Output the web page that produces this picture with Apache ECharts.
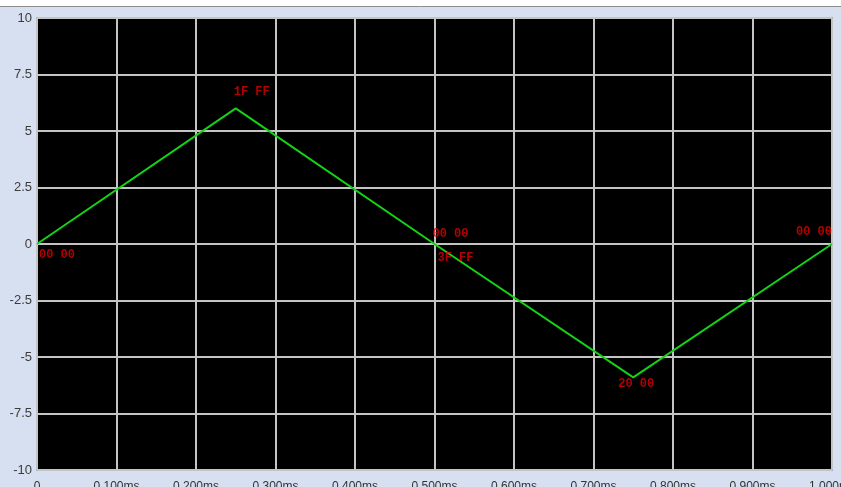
<!DOCTYPE html>
<html>
<head>
<meta charset="utf-8">
<script src="https://cdn.jsdelivr.net/npm/echarts@6/dist/echarts.min.js"></script>
<style>
html,body{margin:0;padding:0;background:#d6e0f1;}
#c{width:841px;height:487px;}
</style>
</head>
<body>
<div id="c"></div>
<script>
// time (ms) and voltage of the triangle wave vertices
var timeMs = [0, 0.25, 0.5, 0.75, 1.0];
var volts = [0, 6.0, 0, -5.9, 0];

// x tick labels
var xTickLabels = ['0', '0.100ms', '0.200ms', '0.300ms', '0.400ms', '0.500ms',
                   '0.600ms', '0.700ms', '0.800ms', '0.900ms', '1.000ms'];

// hex annotations attached to the vertices: [time, value, text]
var annotTime = [0, 0.25, 0.5, 0.5, 0.75, 1.0];
var annotValue = [0, 6.0, 0, 0, -5.9, 0];
var annotText = ['00 00', '1F FF', '00 00', '3F FF', '20 00', '00 00'];
// pixel offsets of each annotation from its vertex (style only)
var annotOffset = [[20, 11], [16, -16], [16, -10], [21, 14], [3, 7], [-18, -12]];

var chart = echarts.init(document.getElementById('c'));

var annotData = annotText.map(function (t, i) {
  return {
    value: [annotTime[i], annotValue[i]],
    label: { show: true, formatter: t, position: 'inside', offset: annotOffset[i] }
  };
});

chart.setOption({
  backgroundColor: '#d6e0f1',
  animation: false,
  graphic: [
    { type: 'rect', shape: { x: 0, y: 0, width: 841, height: 6 }, style: { fill: '#ffffff' }, z: 10 },
    { type: 'line', shape: { x1: 0, y1: 6.5, x2: 841, y2: 6.5 }, style: { stroke: '#8c8c8c', lineWidth: 1 }, z: 10 }
  ],
  grid: {
    left: 37, right: 9, top: 18, bottom: 17,
    containLabel: false, outerBoundsMode: 'none',
    show: true, backgroundColor: '#000000', borderColor: '#8fa6d4', borderWidth: 2
  },
  xAxis: {
    type: 'value', min: 0, max: 1, interval: 0.1,
    axisLine: { show: false },
    axisTick: { show: false },
    splitLine: { show: true, lineStyle: { color: '#c4c4c4', width: 2 } },
    axisLabel: {
      margin: 11, color: '#333', fontSize: 12, fontFamily: 'Liberation Sans',
      showMaxLabel: true, hideOverlap: false,
      formatter: function (v) { return xTickLabels[Math.round(v * 10)]; }
    }
  },
  yAxis: {
    type: 'value', min: -10, max: 10, interval: 2.5,
    axisLine: { show: false },
    axisTick: { show: false },
    splitLine: { show: true, lineStyle: { color: '#c4c4c4', width: 2 } },
    axisLabel: { margin: 5, color: '#3c3c3c', fontSize: 13, fontFamily: 'Liberation Sans' }
  },
  series: [
    {
      type: 'line',
      data: timeMs.map(function (t, i) { return [t, volts[i]]; }),
      symbol: 'none',
      lineStyle: { color: '#14d214', width: 2 },
      z: 3
    },
    {
      type: 'scatter',
      data: annotData,
      symbolSize: 0,
      label: {
        color: '#e00000', fontSize: 12, fontWeight: 'bold', fontFamily: 'Liberation Mono'
      },
      z: 4
    }
  ]
});
</script>
</body>
</html>
